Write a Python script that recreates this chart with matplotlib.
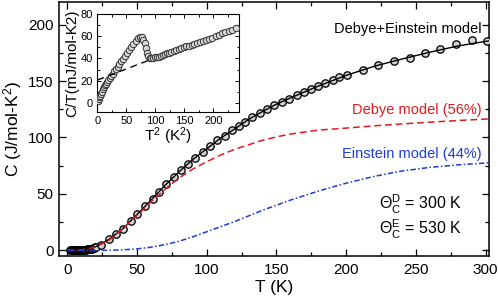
import numpy as np
import matplotlib
matplotlib.use("Agg")
import matplotlib.pyplot as plt
from matplotlib.ticker import MultipleLocator

plt.rcParams["font.family"] = ["Liberation Sans", "DejaVu Sans"]
plt.rcParams["mathtext.default"] = "regular"

# measured C(T), J/mol-K
t_meas = [2.0, 2.6, 3.2, 3.8, 4.4, 5.0, 5.6, 6.2, 6.8, 7.4, 8.0, 8.6, 9.2, 9.8,
          10.4, 11.0, 11.6, 12.2, 12.8, 13.4, 14.0, 14.6, 15.2, 15.8, 16.4, 17.0,
          17.6, 18.2, 18.8, 19.4, 20.0, 20.6,
          24.1, 29.9, 35.0, 40.2, 45.5, 50.3, 55.8, 61.1, 65.9, 71.0, 76.2, 81.8,
          86.6, 91.5, 97.1, 102.2, 107.5, 112.8, 118.3, 123.1, 127.4, 132.7, 138.0,
          143.0, 148.5, 153.8, 159.1, 164.5, 169.7, 174.7, 180.0, 184.8, 190.3,
          195.1, 200.6, 212.0, 222.8, 234.3, 245.5, 256.3, 267.6, 278.7, 290.0, 301.0]
c_meas = [0.01, 0.02, 0.04, 0.06, 0.09, 0.12, 0.16, 0.22, 0.28, 0.36, 0.44, 0.51, 0.50, 0.40,
          0.43, 0.48, 0.53, 0.60, 0.67, 0.74, 0.81, 0.89, 0.98, 1.08, 1.22, 1.38,
          1.56, 1.77, 2.0, 2.26, 2.55, 2.86,
          5.0, 10.0, 14.5, 19.2, 25.7, 32.2, 39.0, 45.5, 52.0, 58.5, 65.0, 70.9,
          76.2, 81.9, 87.3, 92.8, 97.5, 101.6, 106.3, 110.5, 114.0, 118.2, 121.7,
          125.5, 129.1, 131.8, 134.0, 137.3, 140.0, 143.0, 146.0, 148.3, 151.3,
          153.3, 155.7, 160.1, 164.6, 167.5, 170.5, 174.9, 178.5, 182.9, 186.7, 185.8]

# model curves
t_model = [0, 10, 20, 30, 40, 50, 60, 70, 80, 90, 100, 110, 120, 130, 140, 150,
           160, 180, 200, 220, 240, 260, 280, 302]
c_total = [0, 0.4, 3.0, 9.8, 19.5, 31.8, 44.5, 57.5, 69.5, 80.5, 90.0, 99.5, 107.5,
           116.0, 123.0, 129.5, 135.0, 145.5, 155.0, 163.0, 169.5, 175.5, 181.0, 185.5]
c_debye = [0, 0.4, 2.8, 9.0, 19.5, 31.0, 43.0, 54.0, 64.0, 72.0, 78.5, 84.5, 89.5,
           93.5, 97.5, 100.5, 103.0, 106.5, 108.3, 110.3, 112.0, 113.5, 115.0, 116.4]
c_einstein = [0, 0, 0, 0.1, 0.5, 1.3, 2.8, 5.0, 8.0, 12.0, 16.5, 21.0, 25.5, 30.5,
              35.5, 40.0, 44.5, 52.5, 59.5, 65.5, 70.3, 73.5, 75.7, 77.5]

# inset: C/T vs T^2 (mJ/mol-K^2)
t2_low = [1.5, 2.5, 3.6, 4.8, 6.2, 7.7, 9.3, 11.0, 12.9, 14.9, 17.0, 19.2, 21.5, 24.0,
          26.6, 29.3, 32.1, 35.0, 38.0, 41.2, 44.5, 47.9, 51.4, 55.0, 58.7, 62.4,
          66.2, 70.0, 73.4, 76.3, 79.0, 81.5, 83.8, 86.0, 88.3, 90.8, 93.5, 96.5,
          99.6, 102.8, 106.1, 109.5, 113.0, 116.6, 120.3, 124.1, 128.0, 132.0,
          136.1, 140.3, 144.6, 149.0, 153.5, 158.1, 162.8, 167.6, 172.5, 177.5,
          182.6, 187.8, 193.1, 198.5, 204.0, 209.6, 215.3, 221.1, 227.0, 233.0, 239.0]
ct_low = [2.0, 3.5, 5.0, 6.5, 8.3, 10.0, 12.0, 13.8, 15.6, 17.3, 19.0, 20.8, 22.4, 24.3,
          26.2, 28.3, 30.4, 32.6, 34.8, 37.3, 39.8, 42.3, 44.8, 47.5, 50.3, 53.2,
          56.0, 58.5, 59.7, 59.3, 57.0, 53.5, 49.0, 45.0, 42.3, 40.8, 40.3, 40.5,
          40.9, 41.3, 41.6, 42.0, 43.0, 43.8, 44.5, 45.3, 46.0, 46.8,
          47.6, 48.4, 49.2, 50.0, 50.8, 51.6, 52.4, 53.2, 54.2, 55.0,
          55.9, 56.8, 57.8, 58.8, 60.0, 61.3, 62.6, 63.8, 64.9, 66.0, 67.0]
t2_fit = [0, 90]
ct_fit = [20.5, 38.5]

RED = "#e01a1e"
BLUE = "#1c3cd2"

fig = plt.figure(figsize=(4.98, 3.01), dpi=100)
ax = fig.add_axes([0.1185, 0.1495, 0.8635, 0.8439])

ax.plot(t_meas, c_meas, "o", ms=5.3, mfc="#d4d4d4", mec="k", mew=0.95, zorder=3)
ax.plot(t_model, c_total, "k-", lw=1.0, zorder=4)
ax.plot(t_model, c_debye, color=RED, lw=1.1, ls=(0, (4.5, 2.5)), zorder=4)
ax.plot(t_model, c_einstein, color=BLUE, lw=1.1, ls=(0, (3.5, 1.5, 1, 1.5)), zorder=4)

ax.text(297, 196.5, "Debye+Einstein model", ha="right", va="center", fontsize=10.5)
ax.text(297, 124.7, "Debye model (56%)", ha="right", va="center", fontsize=10.5, color=RED)
ax.text(297, 85.7, "Einstein model (44%)", ha="right", va="center", fontsize=10.5, color=BLUE)
ax.text(223.5, 40.5, r"$\Theta_C^D$ = 300 K", ha="left", va="center", fontsize=11.5)
ax.text(223.5, 18.3, r"$\Theta_C^E$ = 530 K", ha="left", va="center", fontsize=11.5)

ax.set_xlim(-6, 302.5)
ax.set_ylim(-5, 220)
ax.xaxis.set_major_locator(MultipleLocator(50))
ax.xaxis.set_minor_locator(MultipleLocator(25))
ax.yaxis.set_major_locator(MultipleLocator(50))
ax.yaxis.set_minor_locator(MultipleLocator(25))
ax.tick_params(which="both", direction="in", top=True, right=True, labelsize=11, width=0.9)
ax.tick_params(which="major", length=5)
ax.tick_params(which="minor", length=3)
ax.tick_params(axis="x", pad=5)
ax.tick_params(axis="y", pad=4)
for s in ax.spines.values():
    s.set_linewidth(1.1)
ax.set_xlabel("T (K)", fontsize=12.5, labelpad=2)
ax.set_ylabel(r"C (J/mol-K$^2$)", fontsize=12.5, labelpad=3)

# inset
axi = fig.add_axes([0.1954, 0.6289, 0.2851, 0.3246])
axi.plot(t2_low, ct_low, "o", ms=4.6, mfc="#d8d8d8", mec="#333333", mew=0.7, zorder=3)
axi.plot(t2_fit, ct_fit, "k", lw=1.0, ls=(0, (5, 3.5)), zorder=4)
axi.set_xlim(0, 245)
axi.set_ylim(-8, 80)
axi.xaxis.set_major_locator(MultipleLocator(50))
axi.xaxis.set_minor_locator(MultipleLocator(25))
axi.yaxis.set_major_locator(MultipleLocator(20))
axi.yaxis.set_minor_locator(MultipleLocator(10))
axi.tick_params(which="both", direction="in", top=True, right=True, labelsize=8, width=0.7, pad=3)
axi.tick_params(which="major", length=3)
axi.tick_params(which="minor", length=1.8)
for s in axi.spines.values():
    s.set_linewidth(0.8)
axi.set_xlabel(r"T$^2$ (K$^2$)", fontsize=11, labelpad=0)
axi.set_ylabel("C/T(mJ/mol-K2)", fontsize=11, labelpad=1)

fig.savefig("out.png", dpi=100)
